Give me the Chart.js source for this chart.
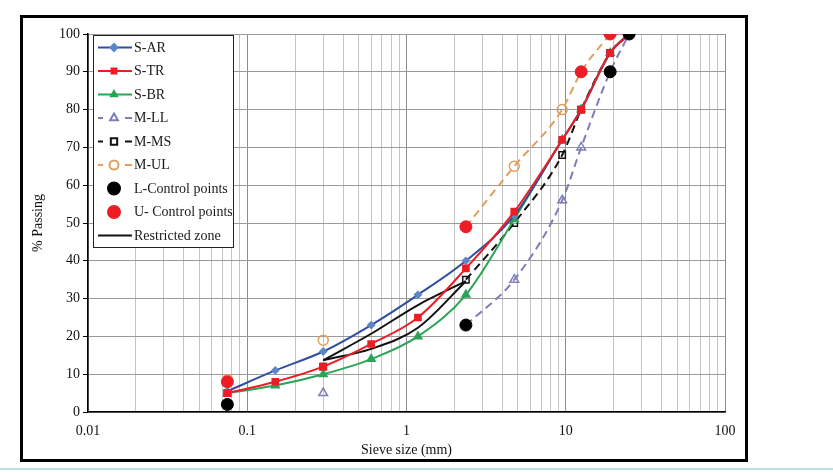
<!DOCTYPE html>
<html><head><meta charset="utf-8">
<script src="https://cdn.jsdelivr.net/npm/chart.js@4.4.1/dist/chart.umd.min.js"></script>
<style>html,body{margin:0;padding:0;background:#fff;}canvas{display:block;}</style>
</head><body>
<canvas id="c" width="833" height="474"></canvas>
<script>
const sieveSizes = [0.075, 0.15, 0.3, 0.6, 1.18, 2.36, 4.75, 9.5, 12.5, 19, 25];
const sAR = [5.5, 11, 16, 23, 31, 40, 52, 72, 80, 95, 100];
const sTR = [5, 8, 12, 18, 25, 38, 53, 72, 80, 95, 100];
const sBR = [5, 7, 10, 14, 20, 31, 51, 72, 80, 95, 100];
const mLL = [null, null, 5, null, null, 23, 35, 56, 70, 90, 100];
const mMS = [5, null, 12, null, null, 35, 50, 68, 80, 95, 100];
const mUL = [8.5, null, 19, null, null, 49, 65, 80, 90, 100, null];
const lControl = [2, null, null, null, null, 23, null, null, null, 90, 100];
const uControl = [8, null, null, null, null, 49, null, null, 90, 100, null];
const rzSizes = [0.3, 0.6, 1.18, 2.36];
const rzUpper = [13.7, 20.7, 28.3, 34.6];
const rzLower = [13.7, 16.7, 22.3, 34.6];
const xMajorTicks = [0.01, 0.1, 1, 10, 100];
const yTicks = [0, 10, 20, 30, 40, 50, 60, 70, 80, 90, 100];

const pts = (xs, ys) => xs.map((x, i) => ({x: x, y: ys[i]}));
const SERIF = '"Liberation Serif", "Times New Roman", serif';

const datasets = [
  {label:'S-AR', data:pts(sieveSizes,sAR), borderColor:'#2f4f9e', backgroundColor:'#5b86c8', pointBorderColor:'#5b86c8', pointStyle:'rectRot', pointRadius:3, borderWidth:2, cubicInterpolationMode:'monotone', order:3, legend:'line'},
  {label:'S-TR', data:pts(sieveSizes,sTR), borderColor:'#ee1c24', backgroundColor:'#ee1c24', pointStyle:'rect', pointRadius:4, borderWidth:2, cubicInterpolationMode:'monotone', order:2, legend:'line'},
  {label:'S-BR', data:pts(sieveSizes,sBR), borderColor:'#2aa456', backgroundColor:'#2aa456', pointStyle:'triangle', pointRadius:4, borderWidth:2, cubicInterpolationMode:'monotone', order:4, legend:'line'},
  {label:'M-LL', data:pts(sieveSizes,mLL), borderColor:'#7d7db8', backgroundColor:'rgba(255,255,255,0)', pointBorderColor:'#7d7db8', pointStyle:'triangle', pointRadius:5, pointBorderWidth:1.5, borderWidth:2, borderDash:[8,5], cubicInterpolationMode:'monotone', order:6, legend:'dash'},
  {label:'M-MS', data:pts(sieveSizes,mMS), borderColor:'#111', backgroundColor:'rgba(255,255,255,0)', pointBorderColor:'#111', pointStyle:'rect', pointRadius:4.5, pointBorderWidth:1.5, borderWidth:2, borderDash:[8,5], cubicInterpolationMode:'monotone', order:5, legend:'dash'},
  {label:'M-UL', data:pts(sieveSizes,mUL), borderColor:'#e0a060', backgroundColor:'rgba(255,255,255,0)', pointBorderColor:'#e0a060', pointStyle:'circle', pointRadius:5, pointBorderWidth:1.5, borderWidth:2, borderDash:[8,5], cubicInterpolationMode:'monotone', order:7, legend:'dash'},
  {label:'L-Control points', data:pts(sieveSizes,lControl), showLine:false, borderColor:'#000', backgroundColor:'#000', pointStyle:'circle', pointRadius:6, order:0, legend:'point'},
  {label:'U- Control points', data:pts(sieveSizes,uControl), showLine:false, borderColor:'#ee1c24', backgroundColor:'#ee1c24', pointStyle:'circle', pointRadius:6, order:1, legend:'point'},
  {label:'Restricted zone', data:pts(rzSizes,rzUpper), borderColor:'#111', backgroundColor:'#111', pointRadius:0, borderWidth:2, cubicInterpolationMode:'monotone', order:8, legend:'plain'},
  {label:'Restricted zone lower', data:pts(rzSizes,rzLower), borderColor:'#111', backgroundColor:'#111', pointRadius:0, borderWidth:2, cubicInterpolationMode:'monotone', order:8, legend:null}
];

const framePlugin = {
  id:'frame',
  beforeDraw(chart){
    const ctx = chart.ctx;
    ctx.save();
    ctx.fillStyle = '#fff';
    ctx.fillRect(0,0,chart.width,chart.height);
    ctx.strokeStyle = '#000';
    ctx.lineWidth = 3;
    ctx.strokeRect(21.5, 16.5, 725, 444);
    ctx.strokeStyle = '#bfe0e0';
    ctx.lineWidth = 2;
    ctx.beginPath(); ctx.moveTo(0, 469); ctx.lineTo(833, 469); ctx.stroke();
    ctx.restore();
  }
};

const legendPlugin = {
  id:'customLegend',
  afterDraw(chart){
    const ctx = chart.ctx;
    const x0 = 93, y0 = 35, w = 140, h = 212;
    ctx.save();
    ctx.fillStyle = '#fff';
    ctx.fillRect(x0, y0, w, h);
    ctx.strokeStyle = '#222';
    ctx.lineWidth = 1;
    ctx.strokeRect(x0+0.5, y0+0.5, w, h);
    let y = 47.5;
    ctx.font = '14px ' + SERIF;
    ctx.textBaseline = 'middle';
    chart.data.datasets.forEach(ds => {
      if (!ds.legend) return;
      const ls = 98, le = 132, mx = 114;
      ctx.strokeStyle = ds.borderColor;
      ctx.lineWidth = 2;
      ctx.setLineDash([]);
      if (ds.legend === 'line' || ds.legend === 'plain') {
        ctx.beginPath(); ctx.moveTo(ls, y); ctx.lineTo(le, y); ctx.stroke();
      } else if (ds.legend === 'dash') {
        ctx.beginPath(); ctx.moveTo(ls, y); ctx.lineTo(ls+5, y); ctx.moveTo(le-7, y); ctx.lineTo(le, y); ctx.stroke();
      }
      if (ds.legend !== 'plain') {
        ctx.fillStyle = ds.backgroundColor;
        ctx.strokeStyle = ds.pointBorderColor || ds.borderColor;
        Chart.helpers.drawPoint(ctx, {pointStyle: ds.pointStyle, radius: ds.legend==='point' ? 6 : (ds.legend==='dash' ? 4.5 : 3.5), borderWidth: ds.pointBorderWidth || 1}, mx, y);
      }
      ctx.fillStyle = '#1a1a1a';
      ctx.textAlign = 'left';
      ctx.fillText(ds.label, 134, y + 0.5);
      y += 23.5;
    });
    ctx.restore();
  }
};

new Chart(document.getElementById('c'), {
  type:'line',
  data:{datasets: datasets},
  plugins:[framePlugin, legendPlugin],
  options:{
    responsive:false,
    animation:false,
    spanGaps:false,
    layout:{padding:{left:22, right:108, top:34, bottom:13}},
    plugins:{legend:{display:false}, tooltip:{enabled:false}},
    scales:{
      x:{
        type:'logarithmic', min:0.01, max:100,
        afterBuildTicks(scale){
          const t = [];
          for (let d = 0; d < xMajorTicks.length - 1; d++) {
            for (let m = 1; m <= 9; m++) t.push({value: xMajorTicks[d]*m});
          }
          t.push({value: xMajorTicks[xMajorTicks.length-1]});
          scale.ticks = t;
        },
        afterFit(scale){ scale.height = 49; },
        ticks:{
          autoSkip:false, maxRotation:0, padding:11, color:'#111',
          font:{family:SERIF, size:14},
          callback(v){ return xMajorTicks.some(m => Math.abs(m - v) / m < 1e-6) ? String(v) : ''; }
        },
        grid:{
          drawTicks:false,
          color(ctx){ const v = ctx.tick && ctx.tick.value; return xMajorTicks.some(m => Math.abs(m - v) / m < 1e-6) ? '#8c8c8c' : '#c4c4c4'; },
          lineWidth:1
        },
        border:{color:'#000', width:1.5},
        title:{display:true, text:'Sieve size (mm)', color:'#111', font:{family:SERIF, size:14}, padding:{top:0, bottom:2}}
      },
      y:{
        min:0, max:100,
        afterBuildTicks(scale){ scale.ticks = yTicks.map(v => ({value:v})); },
        afterFit(scale){ scale.width = 66; },
        ticks:{padding:3, color:'#111', font:{family:SERIF, size:14}},
        grid:{drawTicks:true, tickLength:5, tickColor:'#000', color:'#9a9a9a', lineWidth:1},
        border:{color:'#000', width:1.5},
        title:{display:true, text:'% Passing', color:'#111', font:{family:SERIF, size:14}, padding:{top:8, bottom:0}}
      }
    }
  }
});
</script>
</body></html>
